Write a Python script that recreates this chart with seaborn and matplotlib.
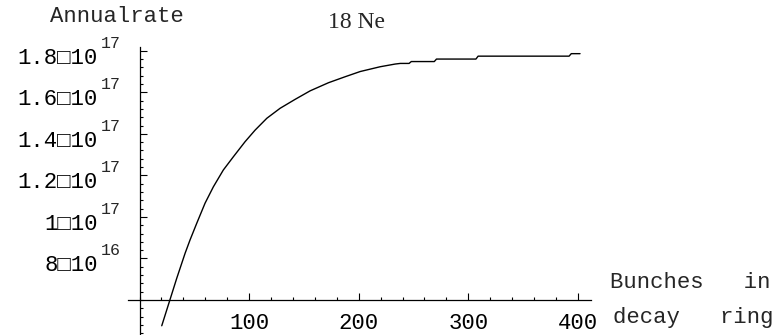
import matplotlib
matplotlib.use("Agg")
import matplotlib.pyplot as plt
import matplotlib.transforms as mtransforms
from matplotlib.ticker import MultipleLocator, FixedLocator
import seaborn as sns
import pandas as pd

# ---- data (annual rate in units of 1e17 vs. number of bunches) ----
bunches = [20.3, 27.9, 34.0, 41.6, 46.1, 52.2, 59.8, 67.4, 76.5, 85.7,
           96.3, 105.5, 116.2, 128.3, 142.0, 155.7, 172.4, 187.7, 201.4,
           219.6, 233.3, 238.0, 246.0, 248.0, 269.0, 271.0, 307.0, 309.0,
           392.0, 394.0, 402.0]
rate_e17 = [0.476, 0.603, 0.705, 0.825, 0.889, 0.969, 1.066, 1.145, 1.226,
            1.290, 1.362, 1.418, 1.475, 1.523, 1.566, 1.607, 1.646, 1.675,
            1.700, 1.723, 1.736, 1.739, 1.739, 1.748, 1.748, 1.760, 1.760,
            1.774, 1.774, 1.786, 1.786]

x_major = [100, 200, 300, 400]
x_labels = ["100", "200", "300", "400"]
y_major = [0.8, 1.0, 1.2, 1.4, 1.6, 1.8]
y_mantissa = ["8", "1", "1.2", "1.4", "1.6", "1.8"]
y_exponent = ["16", "17", "17", "17", "17", "17"]

title_text = "18 Ne"
ylabel_text = "Annualrate"
xlabel_line1 = "Bunches   in"
xlabel_line2 = "decay   ring"

df = pd.DataFrame({"bunches": bunches, "rate": rate_e17})

sns.set_style("white")
mono = ["Liberation Mono", "DejaVu Sans Mono"]
serif = ["Liberation Serif", "DejaVu Serif"]
plt.rcParams["font.family"] = mono

W, H = 781, 335
fig = plt.figure(figsize=(W / 100, H / 100), dpi=100)
ax = fig.add_axes([128 / W, 0, 463 / W, (H - 46.6) / H])
ax.set_facecolor("white")

sns.lineplot(data=df, x="bunches", y="rate", ax=ax, color="black",
             linewidth=1.0, estimator=None, sort=False)

ax.set_xlim(-10.5, 412)
ax.set_ylim(0.4315, 1.82)
ax.set_xlabel("")
ax.set_ylabel("")

for s in ["top", "right"]:
    ax.spines[s].set_visible(False)
ax.spines["left"].set_position(("data", 0))
ax.spines["bottom"].set_position(("data", 0.6))
for s in ["left", "bottom"]:
    ax.spines[s].set_color("black")
    ax.spines[s].set_linewidth(0.9)

ax.xaxis.set_major_locator(FixedLocator(x_major))
ax.set_xticklabels(x_labels)
ax.xaxis.set_minor_locator(MultipleLocator(20))
ax.yaxis.set_major_locator(FixedLocator(y_major))
ax.set_yticklabels([m + "\u25a1" + "10" for m in y_mantissa])
ax.yaxis.set_minor_locator(MultipleLocator(0.04))

ax.tick_params(axis="both", which="both", direction="in", color="black",
               labelcolor="black", width=0.8, labelsize=16,
               bottom=True, left=True, top=False, right=False)
ax.tick_params(axis="both", which="major", length=5)
ax.tick_params(axis="both", which="minor", length=2.5)
ax.tick_params(axis="x", which="major", pad=9)
ax.tick_params(axis="y", which="major", pad=30)

off = mtransforms.ScaledTranslation(0, -0.05, fig.dpi_scale_trans)
for lab in ax.get_yticklabels():
    lab.set_transform(lab.get_transform() + off)

for v, e in zip(y_major, y_exponent):
    ax.annotate(e, xy=(0, v), xycoords="data", xytext=(-27.7, 5.5),
                textcoords="offset points", ha="left", va="center",
                fontsize=12, family=mono, annotation_clip=False)

fig.text(50 / W, 1 - 17 / H, ylabel_text, ha="left", va="center",
         fontsize=16, family=mono)
fig.text(357 / W, 1 - 22 / H, title_text, ha="center", va="center",
         fontsize=17, family=serif)
fig.text(610 / W, 1 - 282 / H, xlabel_line1, ha="left", va="center",
         fontsize=16, family=mono)
fig.text(613 / W, 1 - 317 / H, xlabel_line2, ha="left", va="center",
         fontsize=16, family=mono)

fig.savefig("out.png", dpi=100, facecolor="white")
